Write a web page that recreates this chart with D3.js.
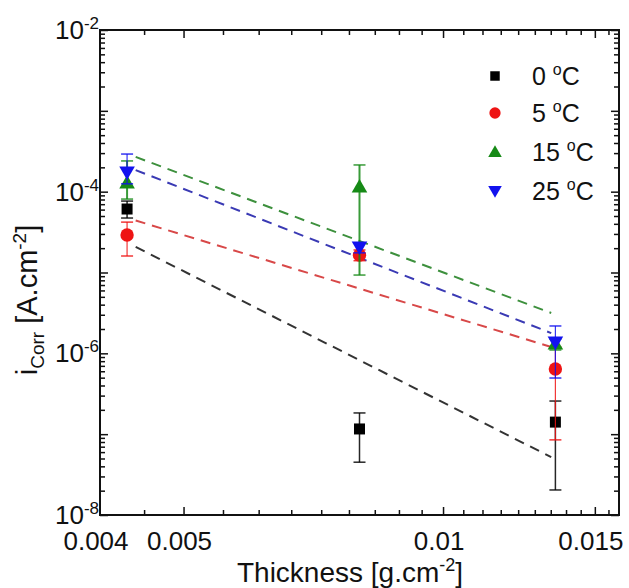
<!DOCTYPE html>
<html>
<head>
<meta charset="utf-8">
<script src="https://cdn.jsdelivr.net/npm/d3@7"></script>
<style>
  body { margin: 0; background: #fff; }
  text { font-family: "Liberation Sans", Arial, sans-serif; fill: #111; }
</style>
</head>
<body>
<script>
// data
var temps = ["0", "5", "15", "25"];
var thickness = [0.0043, 0.008, 0.0135];

var iCorr0  = [6.1e-5, 1.16e-7, 1.41e-7];
var iCorr5  = [2.91e-5, 1.64e-5, 6.4e-7];
var iCorr15 = [1.28e-4, 1.14e-4, 1.30e-6];
var iCorr25 = [1.75e-4, 2.07e-5, 1.38e-6];

var low0  = [4.72e-5, 4.5e-8, 2.04e-8];
var high0 = [7.65e-5, 1.83e-7, 2.57e-7];
var low5  = [1.6e-5, 1.4e-5, 8.5e-8];
var high5 = [4.2e-5, 1.9e-5, 1.2e-6];
var low15  = [8.1e-5, 9.3e-6, 1.1e-6];
var high15 = [2.4e-4, 2.14e-4, 1.5e-6];
var low25  = [1.25e-4, 1.75e-5, 4.95e-7];
var high25 = [2.92e-4, 2.3e-5, 2.18e-6];

// dashed fit lines (end points)
var fitX  = [0.0044, 0.01335];
var fit0  = [2.07e-5, 5.2e-8];
var fit5  = [4.4e-5, 1.2e-6];
var fit15 = [2.69e-4, 3.16e-6];
var fit25 = [1.85e-4, 1.78e-6];

var xTickLabels = [0.004, 0.005, 0.01, 0.015];
var yTickLabels = [-2, -4, -6, -8];

var series = [
  {t: temps[0], y: iCorr0,  lo: low0,  hi: high0,  fit: fit0,  col: "#000000", lcol: "#333333", ew: 1.5, sym: "square"},
  {t: temps[1], y: iCorr5,  lo: low5,  hi: high5,  fit: fit5,  col: "#ee1414", lcol: "#d84848", ew: 1.2, sym: "circle"},
  {t: temps[2], y: iCorr15, lo: low15, hi: high15, fit: fit15, col: "#168a16", lcol: "#3d903d", ew: 2,   sym: "up"},
  {t: temps[3], y: iCorr25, lo: low25, hi: high25, fit: fit25, col: "#1212ee", lcol: "#3a3ab4", ew: 1.2, sym: "down"}
];

var W = 629, H = 588;
var pLeft = 100, pRight = 619, pTop = 30, pBottom = 515;

var svg = d3.select("body").append("svg")
    .attr("width", W)
    .attr("height", H);

svg.append("rect").attr("width", W).attr("height", H).attr("fill", "#fff");

var x = d3.scaleLog().domain([0.004, 0.016]).range([pLeft, pRight]);
var y = d3.scaleLog().domain([1e-8, 1e-2]).range([pBottom, pTop]);

// ticks
var xMajor = [0.005, 0.01, 0.015];
var xMinor = [0.0045];
for (var i = 1; i < 9; i++) { xMinor.push(0.005 + i * 0.005 / 9); }
for (var i = 1; i < 9; i++) { xMinor.push(0.01 + i * 0.005 / 9); }
xMinor.push(0.015 + 0.005 / 9);

var yMajor = [], yMinor = [];
for (var e = -8; e <= -2; e++) {
  yMajor.push(Math.pow(10, e));
  if (e < -2) for (var k = 2; k <= 9; k++) yMinor.push(k * Math.pow(10, e));
}

function tickAxis(axis, vals, len, tx, ty) {
  var g = svg.append("g")
      .attr("transform", "translate(" + tx + "," + ty + ")")
      .call(axis.tickValues(vals).tickSize(len).tickFormat(""));
  g.select(".domain").remove();
  g.selectAll("line").attr("stroke", "#111").attr("stroke-width", 1.5);
}
tickAxis(d3.axisBottom(x), xMajor, -8, 0, pBottom);
tickAxis(d3.axisBottom(x), xMinor, -5, 0, pBottom);
tickAxis(d3.axisTop(x), xMajor, -8, 0, pTop);
tickAxis(d3.axisTop(x), xMinor, -5, 0, pTop);
tickAxis(d3.axisLeft(y), yMajor, -8, pLeft, 0);
tickAxis(d3.axisLeft(y), yMinor, -5, pLeft, 0);
tickAxis(d3.axisRight(y), yMajor, -8, pRight, 0);
tickAxis(d3.axisRight(y), yMinor, -5, pRight, 0);

// frame
svg.append("rect")
    .attr("x", pLeft).attr("y", pTop)
    .attr("width", pRight - pLeft).attr("height", pBottom - pTop)
    .attr("fill", "none")
    .attr("stroke", "#111")
    .attr("stroke-width", 2);

// tick labels
svg.selectAll(".xl").data(xTickLabels).enter().append("text")
    .attr("x", function(d) { return x(d) - 4; })
    .attr("y", 550)
    .attr("text-anchor", "middle")
    .attr("font-size", 26)
    .text(function(d) { return String(d); });

var yl = svg.selectAll(".yl").data(yTickLabels).enter().append("text")
    .attr("x", 99)
    .attr("y", function(d) { return y(Math.pow(10, d)) + 9; })
    .attr("text-anchor", "end")
    .attr("font-size", 26);
yl.append("tspan").text("10");
yl.append("tspan").attr("font-size", 17).attr("dy", -10).text(function(d) { return String(d); });

// axis titles
var xt = svg.append("text")
    .attr("x", 350).attr("y", 582)
    .attr("text-anchor", "middle")
    .attr("font-size", 28);
xt.append("tspan").text("Thickness [g.cm");
xt.append("tspan").attr("font-size", 18).attr("dy", -11).text("-2");
xt.append("tspan").attr("dy", 11).text("]");

var yt = svg.append("text")
    .attr("transform", "translate(37,300) rotate(-90)")
    .attr("text-anchor", "middle")
    .attr("font-size", 29);
yt.append("tspan").text("i");
yt.append("tspan").attr("font-size", 19).attr("dy", 7).text("Corr");
yt.append("tspan").attr("dy", -7).text(" [A.cm");
yt.append("tspan").attr("font-size", 19).attr("dy", -11).text("-2");
yt.append("tspan").attr("dy", 11).text("]");

// fit lines
var line = d3.line()
    .x(function(d) { return x(d[0]); })
    .y(function(d) { return y(d[1]); });

series.forEach(function(s) {
  svg.append("path")
      .attr("d", line(d3.zip(fitX, s.fit)))
      .attr("fill", "none")
      .attr("stroke", s.lcol)
      .attr("stroke-width", 2)
      .attr("stroke-dasharray", "10,7");
});

function symbolPath(sym, size) {
  if (sym === "square") return d3.symbol(d3.symbolSquare, size)();
  if (sym === "circle") return d3.symbol(d3.symbolCircle, size)();
  return d3.symbol(d3.symbolTriangle, size)();
}

// error bars and markers
series.forEach(function(s) {
  var g = svg.append("g");
  var pts = thickness.map(function(t, j) { return {x: t, y: s.y[j], lo: s.lo[j], hi: s.hi[j]}; });
  pts.forEach(function(p) {
    var cx = x(p.x);
    g.append("line")
        .attr("x1", cx).attr("x2", cx)
        .attr("y1", y(p.lo)).attr("y2", y(p.hi))
        .attr("stroke", s.col).attr("stroke-width", s.ew).attr("stroke-opacity", 0.85);
    [p.lo, p.hi].forEach(function(v) {
      g.append("line")
          .attr("x1", cx - 6).attr("x2", cx + 6)
          .attr("y1", y(v)).attr("y2", y(v))
          .attr("stroke", s.col).attr("stroke-width", 1.5).attr("stroke-opacity", 0.85);
    });
  });
  var size = s.sym === "square" ? 121 : s.sym === "circle" ? 140 : 105;
  g.selectAll(".m").data(pts).enter().append("path")
      .attr("d", symbolPath(s.sym, size))
      .attr("transform", function(d) {
        var yy = y(d.y);
        if (s.sym === "up") yy += 1;
        if (s.sym === "down") yy -= 1;
        return "translate(" + x(d.x) + "," + yy + ")" + (s.sym === "down" ? " rotate(180)" : "");
      })
      .attr("fill", s.col);
});

// legend
var legY = [76, 113, 152, 191];
series.forEach(function(s, i) {
  var size = s.sym === "square" ? 90 : s.sym === "circle" ? 100 : 80;
  svg.append("path")
      .attr("d", symbolPath(s.sym, size))
      .attr("transform", "translate(495," + (legY[i] + (s.sym === "up" ? 1 : s.sym === "down" ? -1 : 0)) + ")" + (s.sym === "down" ? " rotate(180)" : ""))
      .attr("fill", s.col);
  var t = svg.append("text")
      .attr("x", 532).attr("y", legY[i] + 9)
      .attr("font-size", 25);
  t.append("tspan").text(s.t + " ");
  t.append("tspan").attr("font-size", 16).attr("dy", -10).text("o");
  t.append("tspan").attr("dy", 10).text("C");
});
</script>
</body>
</html>
